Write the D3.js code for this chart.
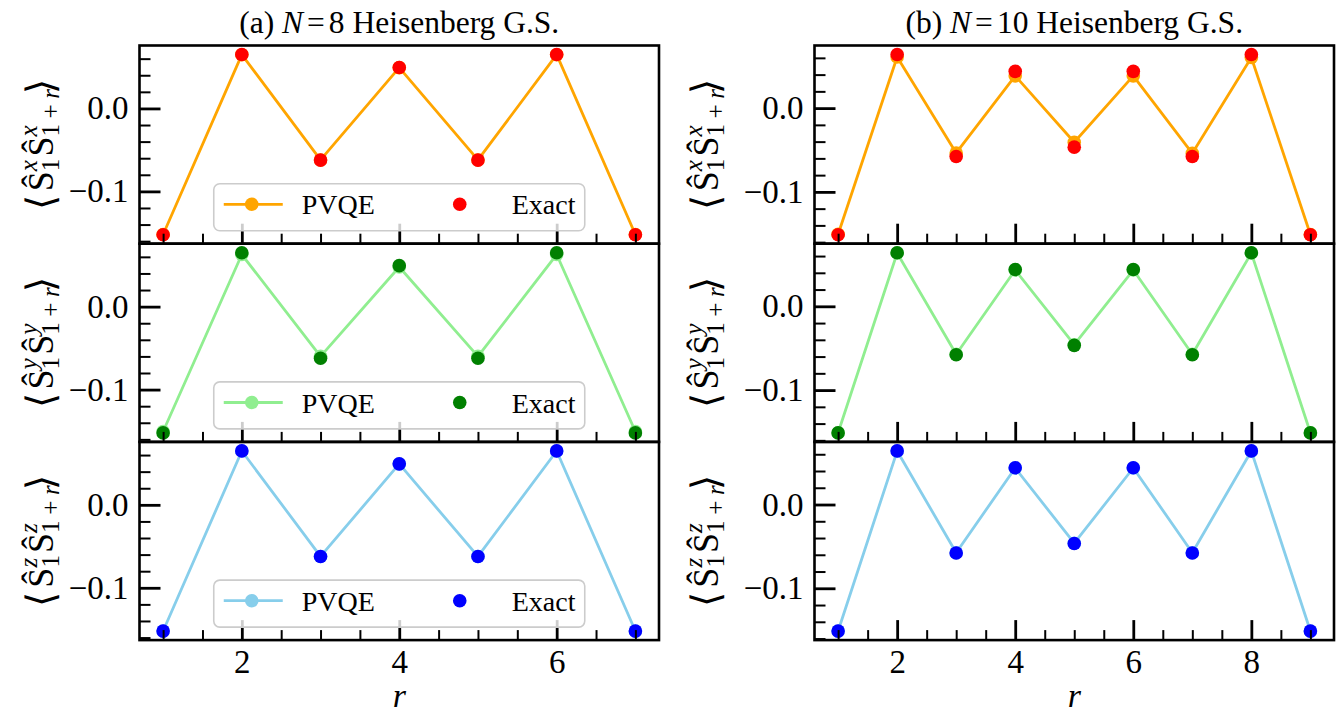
<!DOCTYPE html>
<html><head><meta charset="utf-8">
<script src="https://cdn.jsdelivr.net/npm/d3@7"></script>
<style>
body{margin:0;background:#fff}
svg{display:block}
svg text, svg tspan { font-family: "Liberation Serif", serif !important; }
</style>
</head><body>
<svg id="chart" width="1340" height="713"></svg>
<script>
// ---------------- data ----------------
const rN8 = [1, 2, 3, 4, 5, 6, 7];
const rN10 = [1, 2, 3, 4, 5, 6, 7, 8, 9];
const exactN8 = [-0.1522, 0.0650, -0.0623, 0.0494, -0.0623, 0.0650, -0.1522];
const pvqeXN8 = [-0.1520, 0.0648, -0.0621, 0.0492, -0.0621, 0.0648, -0.1520];
const pvqeYN8 = [-0.1505, 0.0628, -0.0600, 0.0478, -0.0600, 0.0628, -0.1505];
const pvqeZN8 = [-0.1521, 0.0649, -0.0622, 0.0493, -0.0622, 0.0649, -0.1521];
const exactN10 = [-0.1511, 0.0640, -0.0578, 0.0439, -0.0466, 0.0439, -0.0578, 0.0640, -0.1511];
const pvqeXN10 = [-0.1505, 0.0610, -0.0535, 0.0385, -0.0408, 0.0385, -0.0540, 0.0605, -0.1508];
const pvqeYN10 = [-0.1509, 0.0636, -0.0572, 0.0433, -0.0458, 0.0433, -0.0572, 0.0636, -0.1509];
const pvqeZN10 = [-0.1510, 0.0638, -0.0575, 0.0436, -0.0462, 0.0436, -0.0575, 0.0638, -0.1510];
const components = ["x", "y", "z"];
const pvqeColors = ["#FFA500", "#90EE90", "#87CEEB"];
const exactColors = ["#FF0000", "#008000", "#0000FF"];
const xTicksN8 = [2, 4, 6];
const xTicksN10 = [2, 4, 6, 8];
const yTicks = [-0.1, 0.0];
const yTickLabels = ["\u22120.1", "0.0"];
const seriesLabels = ["PVQE", "Exact"];
const panelLetters = ["(a) ", "(b) "];
const systemSizes = [8, 10];
const xAxisLabel = "r";

// ---------------- layout ----------------
const svg = d3.select("#chart");
svg.append("rect").attr("width", 1340).attr("height", 713).attr("fill", "#fff");

const columns = [
  { x0: 139.5, x1: 659, r: rN8, exact: exactN8, pvqe: [pvqeXN8, pvqeYN8, pvqeZN8], xt: xTicksN8, legend: true, labelX: 53 },
  { x0: 814.5, x1: 1334, r: rN10, exact: exactN10, pvqe: [pvqeXN10, pvqeYN10, pvqeZN10], xt: xTicksN10, legend: false, labelX: 718 }
];
const rowTop = 45.5, rowH = 198.2;

function mathLabel(parent, comp, cx, cy, fs) {
  const g = parent.append("g");
  const inner = g.append("g");
  let x = 0;
  const sub = fs * 0.7;
  function plain(txt, opts = {}) {
    const t = inner.append("text").attr("x", x).attr("y", opts.dy || 0)
      .style("font-size", (opts.size || fs) + "px").text(txt);
    x += t.node().getComputedTextLength() + (opts.after || 0);
    return t;
  }
  function stack(supTxt, subParts) {
    const a = inner.append("text").attr("x", x).attr("y", -fs * 0.45)
      .style("font-size", sub + "px").style("font-style", "italic").text(supTxt);
    const b = inner.append("text").attr("x", x).attr("y", fs * 0.17)
      .style("font-size", sub + "px");
    subParts.forEach((p, i) => {
      b.append("tspan").attr("dx", i ? sub * 0.22 : 0).style("font-style", p.it ? "italic" : "normal").text(p.t);
    });
    x += Math.max(a.node().getComputedTextLength(), b.node().getComputedTextLength());
  }
  plain("\u27E8", { size: fs * 1.08, dy: fs * 0.04, after: 4 });
  plain("\u015C");
  stack(comp, [{ t: "1" }]);
  x += 2;
  plain("\u015C");
  stack(comp, [{ t: "1" }, { t: "+" }, { t: "r", it: true }]);
  x += 6;
  plain("\u27E9", { size: fs * 1.08, dy: fs * 0.04 });
  const W = x;
  inner.attr("transform", `translate(${-W / 2},0)`);
  g.attr("transform", `translate(${cx},${cy}) rotate(-90)`);
}

columns.forEach((col, ci) => {
  const span = col.r[col.r.length - 1] - col.r[0];
  const x = d3.scaleLinear()
    .domain([col.r[0] - 0.05 * span, col.r[col.r.length - 1] + 0.05 * span])
    .range([col.x0, col.x1]);

  // title
  const title = svg.append("text").attr("x", (col.x0 + col.x1) / 2).attr("y", 33)
    .attr("text-anchor", "middle").style("font-size", "31.5px");
  title.append("tspan").text(panelLetters[ci]);
  title.append("tspan").style("font-style", "italic").text("N");
  title.append("tspan").attr("dx", 4).text("=");
  title.append("tspan").attr("dx", 4).text(String(systemSizes[ci]));
  title.append("tspan").text(" Heisenberg G.S.");

  components.forEach((comp, ri) => {
    const top = rowTop + ri * rowH, bot = top + rowH;
    const pv = col.pvqe[ri];
    const all = col.exact.concat(pv);
    const lo = d3.min(all), hi = d3.max(all), pad = (hi - lo) * 0.05;
    const y = d3.scaleLinear().domain([lo - pad, hi + pad]).range([bot, top]);
    const g = svg.append("g");

    // PVQE line + markers, then exact markers
    const line = d3.line().x((d, i) => x(col.r[i])).y(d => y(d));
    g.append("path").datum(pv).attr("d", line).attr("fill", "none")
      .attr("stroke", pvqeColors[ri]).attr("stroke-width", 2.8).attr("stroke-linejoin", "round");
    g.selectAll(".pv").data(pv).join("circle").attr("cx", (d, i) => x(col.r[i])).attr("cy", d => y(d))
      .attr("r", 6.8).attr("fill", pvqeColors[ri]);
    g.selectAll(".ex").data(col.exact).join("circle").attr("cx", (d, i) => x(col.r[i])).attr("cy", d => y(d))
      .attr("r", 6.8).attr("fill", exactColors[ri]);

    // y axis (major + minor, inward)
    const [d0, d1] = y.domain();
    const minorY = d3.range(-20, 21).map(k => +(k * 0.02).toFixed(2))
      .filter(v => v >= d0 && v <= d1 && !yTicks.some(t => Math.abs(t - v) < 1e-9));
    const yMinor = svg.append("g").attr("transform", `translate(${col.x0},0)`)
      .call(d3.axisLeft(y).tickValues(minorY).tickSize(-11).tickFormat(""));
    const yMajor = svg.append("g").attr("transform", `translate(${col.x0},0)`)
      .call(d3.axisLeft(y).tickValues(yTicks).tickSize(-21).tickPadding(11)
        .tickFormat((d, i) => yTickLabels[i]));
    // x axis
    const [xd0, xd1] = x.domain();
    const minorX = d3.range(0, 21).map(k => k * 0.5)
      .filter(v => v >= xd0 && v <= xd1 && !col.xt.includes(v));
    const xMinor = svg.append("g").attr("transform", `translate(0,${bot})`)
      .call(d3.axisBottom(x).tickValues(minorX).tickSize(-10).tickFormat(""));
    const xMajor = svg.append("g").attr("transform", `translate(0,${bot})`)
      .call(d3.axisBottom(x).tickValues(col.xt).tickSize(-20).tickPadding(9)
        .tickFormat(ri === 2 ? d3.format("d") : () => ""));
    [yMinor, yMajor, xMinor, xMajor].forEach(a => {
      a.select(".domain").remove();
      a.attr("font-family", null);
      a.selectAll("line").attr("stroke", "#000");
      a.selectAll("text").style("font-size", "33px").attr("fill", "#000");
    });
    [yMinor, xMinor].forEach(a => a.selectAll("line").attr("stroke-width", 2));
    [yMajor, xMajor].forEach(a => a.selectAll("line").attr("stroke-width", 2.8));

    // frame
    svg.append("rect").attr("x", col.x0).attr("y", top).attr("width", col.x1 - col.x0).attr("height", rowH)
      .attr("fill", "none").attr("stroke", "#000").attr("stroke-width", 2.6);

    // y label
    mathLabel(svg, comp, col.labelX, (top + bot) / 2, 36);

    // legend
    if (col.legend) {
      const lw = 371, lh = 47;
      const lx = (col.x0 + col.x1) / 2 - lw / 2, ly = bot - 13 - lh;
      const lg = svg.append("g");
      lg.append("rect").attr("x", lx).attr("y", ly).attr("width", lw).attr("height", lh).attr("rx", 6)
        .attr("fill", "#fff").attr("fill-opacity", 0.8).attr("stroke", "#cccccc").attr("stroke-width", 1.6);
      const my = ly + 20.6;
      lg.append("line").attr("x1", lx + 10).attr("x2", lx + 69).attr("y1", my).attr("y2", my)
        .attr("stroke", pvqeColors[ri]).attr("stroke-width", 2.8);
      lg.append("circle").attr("cx", lx + 38).attr("cy", my).attr("r", 6.8).attr("fill", pvqeColors[ri]);
      lg.append("text").attr("x", lx + 88).attr("y", ly + 30.6)
        .style("font-size", "28px").text(seriesLabels[0]);
      lg.append("circle").attr("cx", lx + 246).attr("cy", my).attr("r", 6.8).attr("fill", exactColors[ri]);
      lg.append("text").attr("x", lx + 298).attr("y", ly + 30.6)
        .style("font-size", "28px").text(seriesLabels[1]);
    }
  });

  // x label
  svg.append("text").attr("x", (col.x0 + col.x1) / 2).attr("y", 707).attr("text-anchor", "middle")
    .style("font-size", "34px").style("font-style", "italic").text(xAxisLabel);
});
</script>
</body></html>
